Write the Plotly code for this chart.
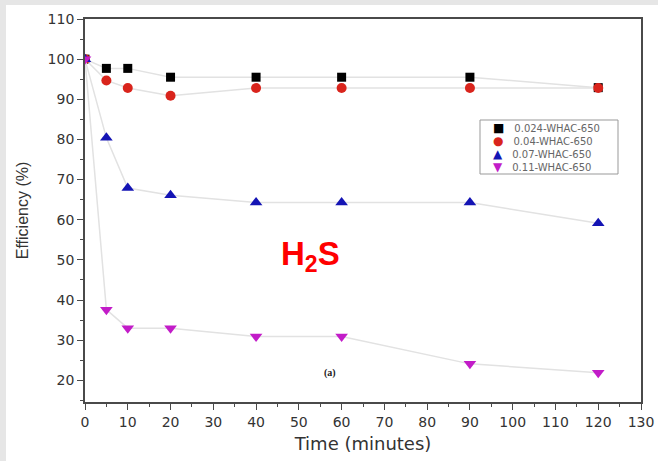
import plotly.graph_objects as go

time = [0, 5, 10, 20, 40, 60, 90, 120]
s024 = [100, 97.7, 97.7, 95.5, 95.5, 95.5, 95.5, 92.9]
s04 = [100, 94.7, 92.8, 90.9, 92.8, 92.8, 92.8, 92.8]
s07 = [100, 80.4, 67.9, 66.1, 64.3, 64.3, 64.3, 59.1]
s11 = [100, 37.6, 33.0, 33.0, 30.9, 30.9, 24.1, 21.9]
names = ["0.024-WHAC-650", "0.04-WHAC-650", "0.07-WHAC-650", "0.11-WHAC-650"]

series = [s024, s04, s07, s11]
colors = ["#000000", "#d9241c", "#1414b4", "#c21cc8"]
symbols = ["square", "circle", "triangle-up", "triangle-down"]
glyphs = ["■", "●", "▲", "▼"]
sizes = [9, 10, 11, 11]

W, H = 658, 461
L, R, T, B = 85, 17, 19, 59
pw, ph = W - L - R, H - T - B

fig = go.Figure()
for ys, c, sym, sz, nm in zip(series, colors, symbols, sizes, names):
    fig.add_trace(go.Scatter(
        x=time, y=ys, name=nm, mode="lines+markers",
        line=dict(color="#e2e2e2", width=1.5),
        marker=dict(color=c, symbol=sym, size=sz, line=dict(width=0)),
        showlegend=False,
    ))

axis_common = dict(
    showline=True, linecolor="#4a4a4a", linewidth=1.8, mirror=True,
    ticks="outside", ticklen=6, tickcolor="#4a4a4a", tickwidth=1.2,
    showgrid=False, zeroline=False, automargin=False,
    tickfont=dict(family="DejaVu Sans", size=14, color="#333333"),
)

fig.update_xaxes(range=[0, 130], dtick=10, tick0=0,
                 minor=dict(dtick=5, ticks="outside", ticklen=3, tickcolor="#4a4a4a"),
                 title=dict(text="Time (minutes)", font=dict(family="DejaVu Sans", size=18, color="#333333"), standoff=9),
                 **axis_common)
fig.update_yaxes(range=[14.6, 110], dtick=10, tick0=0,
                 minor=dict(dtick=5, ticks="outside", ticklen=3, tickcolor="#4a4a4a"),
                 title=dict(text="Efficiency (%)", font=dict(family="Liberation Sans, Arial", size=16, color="#333333"), standoff=15),
                 **axis_common)

# legend drawn as a box with one multi-line text
lx0, lx1, ly0, ly1 = 480, 618, 120, 174
rows = [f"<span style='color:{c};font-size:12px'>{g}</span>\u2002\u2002{nm}"
        for g, c, nm in zip(glyphs, colors, names)]
ann = [dict(
    text="<br>".join(rows), x=(491 - L) / pw, y=1 - ((ly0 + ly1) / 2 - T) / ph,
    xref="paper", yref="paper", xanchor="left", yanchor="middle", align="left",
    showarrow=False, font=dict(family="DejaVu Sans", size=10, color="#666666"))]

ann += [
    dict(text="<b>H<sub>2</sub>S</b>", x=(310 - L) / pw, y=1 - (256 - T) / ph,
         xref="paper", yref="paper", showarrow=False,
         font=dict(family="Liberation Sans, Arial", size=33, color="#ff0000")),
    dict(text="<b>(a)</b>", x=(330 - L) / pw, y=1 - (381 - T) / ph,
         xref="paper", yref="paper", showarrow=False,
         font=dict(family="Liberation Serif, Times New Roman", size=10, color="#222222")),
]

fig.update_layout(
    width=W, height=H,
    margin=dict(l=L, r=R, t=T, b=B),
    paper_bgcolor="white", plot_bgcolor="white",
    showlegend=False,
    annotations=ann,
    shapes=[
        dict(type="rect", xref="paper", yref="paper", x0=-L / pw, x1=(6 - L) / pw,
             y0=-B / ph, y1=1 + T / ph, fillcolor="#e6e6e6", line=dict(width=0), layer="below"),
        dict(type="rect", xref="paper", yref="paper", x0=-L / pw, x1=1 + R / pw,
             y0=1 + (T - 5) / ph, y1=1 + T / ph, fillcolor="#e6e6e6", line=dict(width=0), layer="below"),
        dict(type="rect", xref="paper", yref="paper",
             x0=(lx0 - L) / pw, x1=(lx1 - L) / pw,
             y0=1 - (ly1 - T) / ph, y1=1 - (ly0 - T) / ph,
             fillcolor="white", line=dict(color="#999999", width=1), layer="above"),
    ],
)

fig.write_html("out.html", config={"displayModeBar": False},
               post_script="document.body.style.margin='0px';document.body.style.overflow='hidden';")
